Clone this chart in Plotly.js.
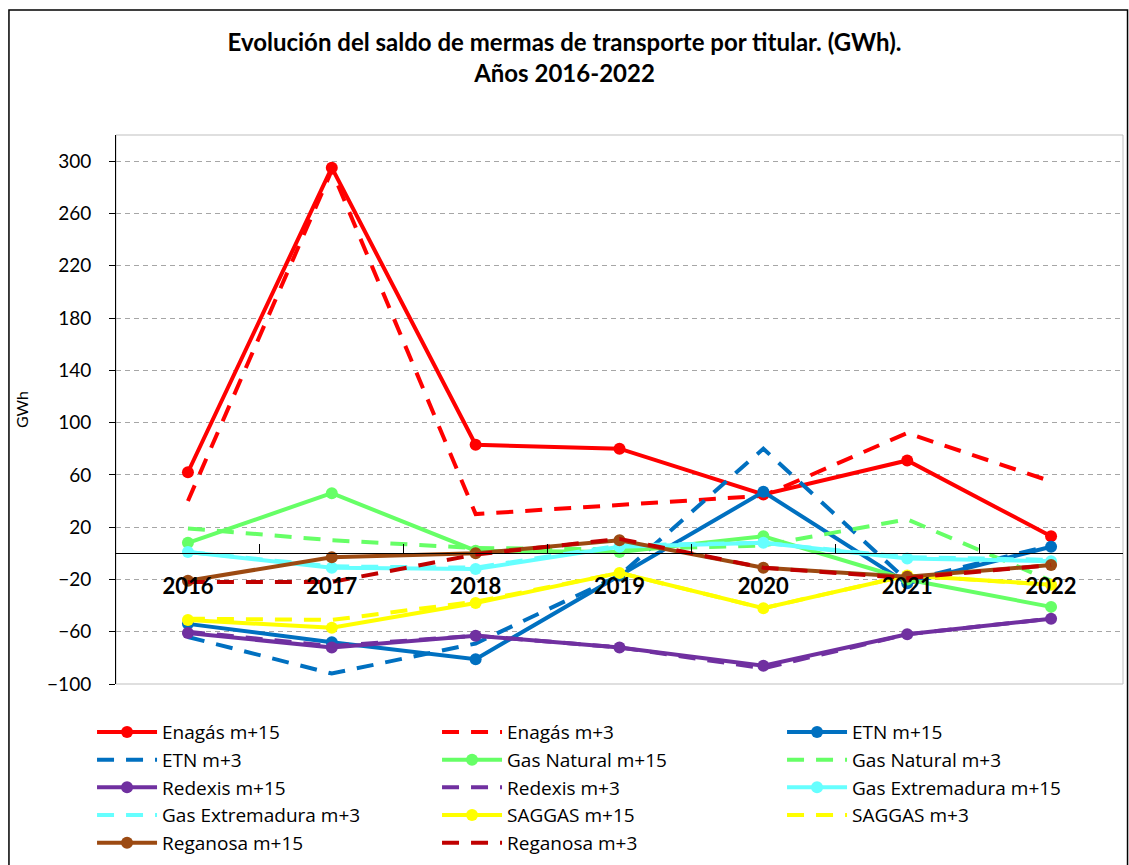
<!DOCTYPE html>
<html>
<head>
<meta charset="utf-8">
<script src="https://cdn.plot.ly/plotly-3.0.1.min.js"></script>
<style>html,body{margin:0;padding:0;background:#fff;}#chart{width:1129px;height:865px;}</style>
</head>
<body>
<div id="chart"></div>
<script>
const years = ['2016','2017','2018','2019','2020','2021','2022'];

const enagas15 = [62, 295, 83, 80, 45, 71, 13];
const enagas3  = [40, 293, 30, 37, 44, 92, 55];
const etn15    = [-54, -68, -81, -17, 47, -23, 5];
const etn3     = [-64, -92, -69, -17, 80, -21, 6];
const gasnat15 = [8, 46, 2, 1, 13, -20, -41];
const gasnat3  = [19, 10, 4, 3, 6, 26, -21];
const redexis15 = [-61, -72, -63, -72, -86, -62, -50];
const redexis3  = [-60, -71, -63, -72, -88, -62, -50];
const gasext15 = [1, -11, -12, 5, 8, -4, -6];
const gasext3  = [1, -10, -11, 6, 8, -3, -5];
const saggas15 = [-51, -57, -38, -15, -42, -17, -24];
const saggas3  = [-50, -51, -37, -15, -42, -17, -24];
const reganosa15 = [-21, -3, 0, 10, -11, -18, -9];
const reganosa3  = [-22, -22, -1, 11, -11, -19, -9];

const yTicks = [-100, -60, -20, 20, 60, 100, 140, 180, 220, 260, 300];

const FONT = 'Lato, Carlito, "Open Sans", sans-serif';
const LEGFONT = '"Open Sans", Lato, sans-serif';
const DASH = '17px,12px';

function solid(name, y, color) {
  return {x: years, y: y, name: name, type: 'scatter', mode: 'lines+markers',
    line: {color: color, width: 4}, marker: {color: color, size: 12}};
}
function dashed(name, y, color) {
  return {x: years, y: y, name: name, type: 'scatter', mode: 'lines',
    line: {color: color, width: 4, dash: DASH}};
}

const traces = [
  solid('Enagás m+15', enagas15, '#FF0000'),
  dashed('Enagás m+3', enagas3, '#FF0000'),
  solid('ETN m+15', etn15, '#0070C0'),
  dashed('ETN m+3', etn3, '#0070C0'),
  solid('Gas Natural m+15', gasnat15, '#66FF66'),
  dashed('Gas Natural m+3', gasnat3, '#66FF66'),
  solid('Redexis m+15', redexis15, '#7030A0'),
  dashed('Redexis m+3', redexis3, '#7030A0'),
  solid('Gas Extremadura m+15', gasext15, '#66FFFF'),
  dashed('Gas Extremadura m+3', gasext3, '#66FFFF'),
  solid('SAGGAS m+15', saggas15, '#FFFF00'),
  dashed('SAGGAS m+3', saggas3, '#FFFF00'),
  solid('Reganosa m+15', reganosa15, '#9C4A12'),
  dashed('Reganosa m+3', reganosa3, '#C00000')
];

const yMin = -100, yMax = 320;
const zeroPos = (0 - yMin) / (yMax - yMin);

const layout = {
  width: 1129, height: 865,
  margin: {l: 116, r: 6, t: 135, b: 181, autoexpand: false},
  paper_bgcolor: '#ffffff', plot_bgcolor: '#ffffff',
  font: {family: FONT, size: 17, color: '#000000'},
  showlegend: true,
  title: {
    text: '<b>Evolución del saldo de mermas de transporte por titular. (GWh).<br>Años 2016-2022</b>',
    font: {family: FONT, size: 24, color: '#000000'},
    x: 0.5, xanchor: 'center', xref: 'container',
    y: 0.941, yanchor: 'top', yref: 'container'
  },
  xaxis: {
    type: 'category',
    range: [-0.5, 6.5],
    anchor: 'free', position: zeroPos,
    showline: true, linecolor: '#000000', linewidth: 1,
    ticks: 'inside', ticklen: 9, tickcolor: '#000000', tickwidth: 1,
    tickson: 'boundaries',
    showgrid: false, zeroline: false,
    tickfont: {family: FONT, size: 22, color: '#000000', weight: 'bold'},
    ticklabelstandoff: 13,
    automargin: false,
    fixedrange: true
  },
  yaxis: {
    range: [yMin, yMax],
    tickvals: yTicks,
    showline: true, linecolor: '#000000', linewidth: 1,
    ticks: 'outside', ticklen: 6, tickcolor: '#000000',
    showgrid: true, gridcolor: '#A6A6A6', griddash: '5px,4px', gridwidth: 1,
    zeroline: false,
    tickfont: {family: FONT, size: 19, color: '#000000'},
    ticklabelstandoff: 14,
    title: {text: 'GWh', font: {family: FONT, size: 16, color: '#000000'}, standoff: 14},
    automargin: false,
    fixedrange: true
  },
  legend: {
    orientation: 'h',
    x: -0.0238, xanchor: 'left',
    y: -0.053, yanchor: 'top',
    font: {family: LEGFONT, size: 19, color: '#000000'},
    entrywidth: 270, entrywidthmode: 'pixels',
    itemwidth: 60,
    bgcolor: 'rgba(0,0,0,0)',
    traceorder: 'normal'
  },
  shapes: [
    {type: 'rect', xref: 'paper', yref: 'paper', x0: 0, x1: 1, y0: 0, y1: 1,
     line: {color: '#BFBFBF', width: 1}, layer: 'below'},
    {type: 'rect', xref: 'paper', yref: 'paper', x0: -0.1063, x1: 1.0045, y0: -0.34, y1: 1.2277,
     line: {color: '#000000', width: 1.5}, layer: 'below'}
  ]
};

Plotly.newPlot('chart', traces, layout, {displayModeBar: false, staticPlot: true});
</script>
</body>
</html>
